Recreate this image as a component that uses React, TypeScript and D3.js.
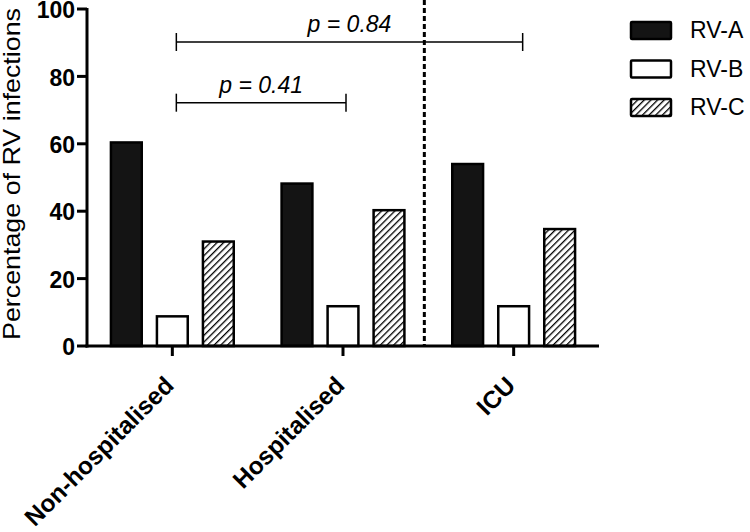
import React from "react";
import * as d3 from "d3";

const categories = ["Non-hospitalised", "Hospitalised", "ICU"];
const seriesNames = ["RV-A", "RV-B", "RV-C"];
const rvA = [60.4, 48.2, 54.0];
const rvB = [8.8, 11.8, 11.8];
const rvC = [31.0, 40.3, 34.7];
const yTicks = [0, 20, 40, 60, 80, 100];
const pValues = ["p = 0.84", "p = 0.41"];

const W = 750;
const H = 532;
const FONT = "'Liberation Sans', Arial, Helvetica, sans-serif";

export default function App() {
  const x0 = d3.scaleBand<string>().domain(categories).range([87, 599]).padding(0);
  const x1 = d3
    .scaleBand<string>()
    .domain(seriesNames)
    .range([-69, 69])
    .paddingInner(0.33)
    .paddingOuter(0.165);
  const y = d3.scaleLinear().domain([0, 100]).range([346, 9]);
  const seriesValues = [rvA, rvB, rvC];
  const fills = ["#141414", "#ffffff", "url(#hatch)"];
  const xc = (c: string) => (x0(c) as number) + x0.bandwidth() / 2;

  const bars: any[] = [];
  categories.forEach((c, ci) => {
    seriesNames.forEach((s, si) => {
      const v = seriesValues[si][ci];
      bars.push(
        <rect
          key={c + s}
          x={xc(c) + (x1(s) as number)}
          y={y(v)}
          width={x1.bandwidth()}
          height={y(0) - y(v)}
          fill={fills[si]}
          stroke="#000"
          strokeWidth={2.5}
        />
      );
    });
  });

  // dashed separator between Hospitalised and ICU
  const sepX = (xc(categories[1]) + xc(categories[2])) / 2 - 4;

  const brackets = [
    { x1: xc(categories[0]) + 4, x2: xc(categories[2]) + 9, yv: 90.2, label: pValues[0], ty: 32 },
    { x1: xc(categories[0]) + 4, x2: xc(categories[1]) + 3, yv: 72.2, label: pValues[1], ty: 93 },
  ];

  return (
    <svg width={W} height={H} style={{ position: "absolute", left: 0, top: 0, background: "#fff" }}>
      <defs>
        <pattern id="hatch" patternUnits="userSpaceOnUse" width={4.7} height={4.7} patternTransform="rotate(45)">
          <rect width={4.7} height={4.7} fill="#fff" />
          <line x1={0} y1={0} x2={0} y2={4.7} stroke="#000" strokeWidth={2.6} />
        </pattern>
      </defs>
      <rect width={W} height={H} fill="#fff" />

      {/* Y axis label */}
      <text
        transform={`translate(20, 174) rotate(-90)`}
        textAnchor="middle"
        fontFamily={FONT}
        fontSize={24.5}
        textLength={332}
        lengthAdjust="spacingAndGlyphs"
        fill="#000"
      >
        Percentage of RV infections
      </text>

      {/* Y ticks */}
      {yTicks.map((t) => (
        <g key={t}>
          <line x1={77} x2={87} y1={y(t)} y2={y(t)} stroke="#000" strokeWidth={3} />
          <text
            x={75}
            y={y(t)}
            dy="0.4em"
            textAnchor="end"
            fontFamily={FONT}
            fontWeight="bold"
            fontSize={23}
            fill="#000"
          >
            {t}
          </text>
        </g>
      ))}

      {bars}

      {/* dashed separator */}
      <line x1={sepX} x2={sepX} y1={0} y2={y(0)} stroke="#000" strokeWidth={3} strokeDasharray="5,3" />

      {/* axes */}
      <line x1={87} x2={87} y1={y(100) - 1} y2={y(0) + 1.5} stroke="#000" strokeWidth={3} />
      <line x1={85.5} x2={599} y1={y(0)} y2={y(0)} stroke="#000" strokeWidth={3} />

      {/* X ticks and labels */}
      {categories.map((c) => (
        <g key={c}>
          <line x1={xc(c)} x2={xc(c)} y1={y(0)} y2={y(0) + 10} stroke="#000" strokeWidth={3} />
          <text
            transform={`translate(${xc(c) + 3}, 387) rotate(-45)`}
            textAnchor="end"
            fontFamily={FONT}
            fontWeight="bold"
            fontSize={24.5}
            fill="#000"
          >
            {c}
          </text>
        </g>
      ))}

      {/* significance brackets */}
      {brackets.map((b, i) => (
        <g key={i}>
          <line x1={b.x1} x2={b.x2} y1={y(b.yv)} y2={y(b.yv)} stroke="#000" strokeWidth={1.5} />
          <line x1={b.x1} x2={b.x1} y1={y(b.yv) - 9} y2={y(b.yv) + 9} stroke="#000" strokeWidth={1.5} />
          <line x1={b.x2} x2={b.x2} y1={y(b.yv) - 9} y2={y(b.yv) + 9} stroke="#000" strokeWidth={1.5} />
          <text
            x={(b.x1 + b.x2) / 2}
            y={b.ty}
            textAnchor="middle"
            fontFamily={FONT}
            fontStyle="italic"
            fontSize={23}
            fill="#000"
          >
            {b.label}
          </text>
        </g>
      ))}

      {/* legend */}
      {seriesNames.map((s, i) => (
        <g key={s} transform={`translate(631, ${22 + i * 38.5})`}>
          <rect x={0} y={0} width={40} height={17} fill={fills[i]} stroke="#000" strokeWidth={2.5} rx={1} />
          <text x={59} y={16} fontFamily={FONT} fontSize={23} fill="#000">
            {s}
          </text>
        </g>
      ))}
    </svg>
  );
}
